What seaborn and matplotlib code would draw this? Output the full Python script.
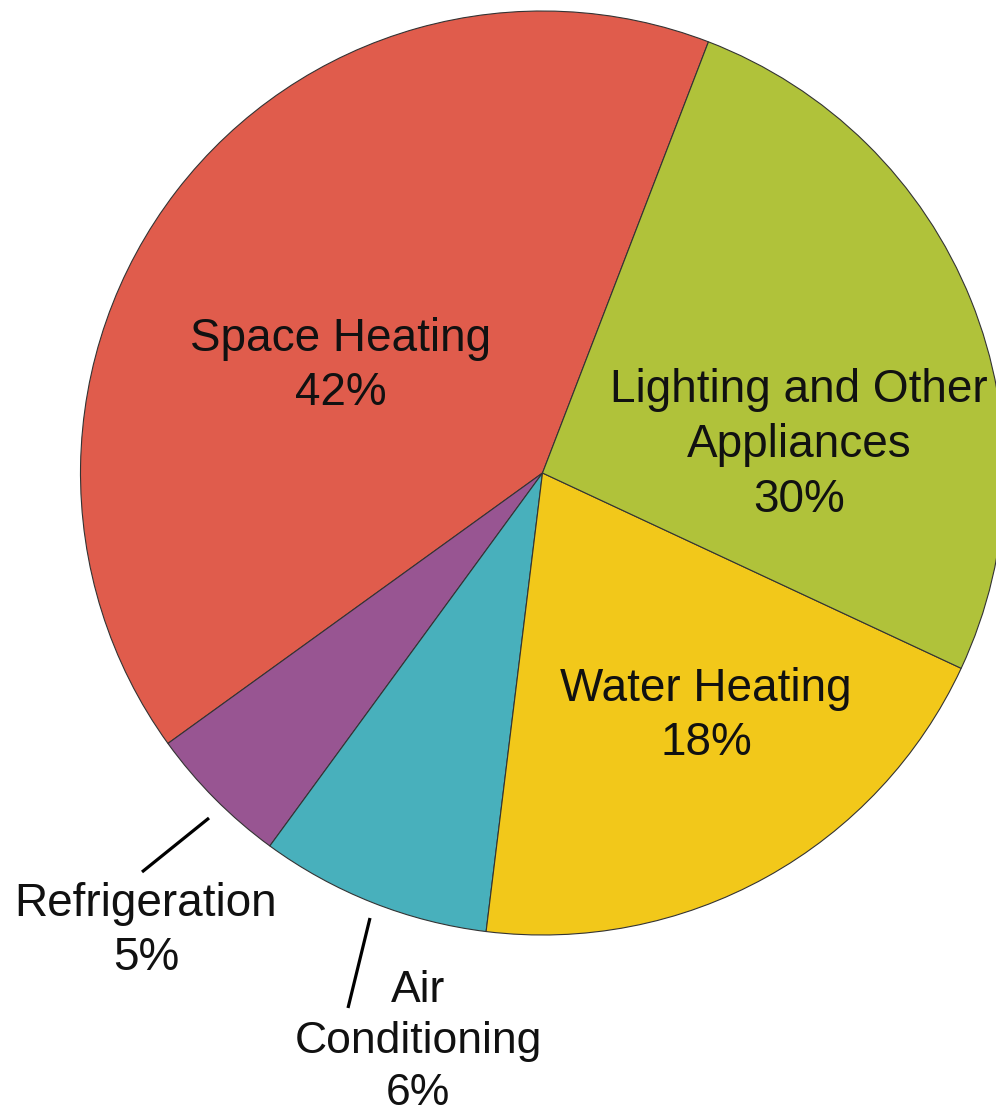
import matplotlib
matplotlib.use("Agg")
import matplotlib.pyplot as plt
import seaborn as sns

sns.set_theme(style="white")
plt.rcParams["font.family"] = ["Liberation Sans", "DejaVu Sans"]

# Data (wedge sizes as drawn, in percent) and the printed labels
categories = ["Space Heating", "Refrigeration", "Air Conditioning",
              "Water Heating", "Lighting and Other Appliances"]
shares = [40.8, 5.0, 8.1, 20.0, 26.1]
label_texts = ["Space Heating\n42%", "Refrigeration\n5%", "Air\nConditioning\n6%",
               "Water Heating\n18%", "Lighting and Other\nAppliances\n30%"]
colors = ["#E05C4C", "#985592", "#48B0BC", "#F2C81A", "#B0C23A"]

W, H = 996, 1118
fig = plt.figure(figsize=(W / 100, H / 100), dpi=100)
ax = fig.add_axes([0, 0, 1, 1])
ax.set_xlim(0, W)
ax.set_ylim(0, H)
ax.set_aspect("equal")
ax.axis("off")

cx, cy, r = 542.5, H - 473, 462
ax.pie(shares, colors=colors, startangle=68.95, counterclock=True,
       center=(cx, cy), radius=r, frame=True,
       wedgeprops=dict(edgecolor="#333333", linewidth=0.8))
ax.set_xlim(0, W)
ax.set_ylim(0, H)
ax.axis("off")

# label positions (pixel coords from top-left)
label_pos = [(341, 366), (146, 931), (418, 1042), (706, 716), (799, 445)]
sizes = [33, 33, 32, 33, 33]
for txt, (x, y), fs in zip(label_texts, label_pos, sizes):
    ax.text(x, H - y, txt, ha="center", va="center", fontsize=fs,
            color="#111111", linespacing=1.32)

# leader lines
ax.plot([209, 142], [H - 818, H - 872], color="black", lw=2.3, solid_capstyle="butt")
ax.plot([370, 348], [H - 918, H - 1008], color="black", lw=2.3, solid_capstyle="butt")

fig.savefig("out.png", dpi=100)
